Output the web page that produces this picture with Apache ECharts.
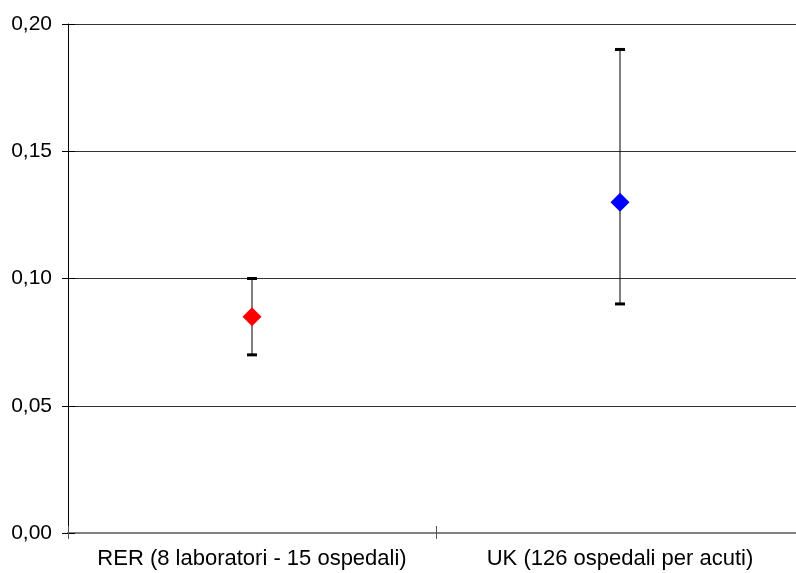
<!DOCTYPE html>
<html><head><meta charset="utf-8">
<script src="https://cdn.jsdelivr.net/npm/echarts@6/dist/echarts.min.js"></script>
<style>html,body{margin:0;padding:0;background:#fff;overflow:hidden}#c{width:804px;height:573px}</style>
</head><body><div id="c"></div>
<script>
var categories = ['RER (8 laboratori - 15 ospedali)', 'UK (126 ospedali per acuti)'];
var values = [0.085, 0.13];
var lows = [0.07, 0.09];
var highs = [0.10, 0.19];
var colors = ['#ff0000', '#0000ff'];

var chart = echarts.init(document.getElementById('c'));
var font = 'Liberation Sans, Arial, sans-serif';
chart.setOption({
  animation: false,
  grid: { left: 68, right: 0, top: 24, bottom: 40, containLabel: false },
  xAxis: [{
    type: 'category', data: categories, boundaryGap: true,
    axisLine: { lineStyle: { color: '#808080', width: 2 } },
    axisTick: { show: true, interval: 0, length: 6, lineStyle: { color: '#555', width: 1 } },
    axisLabel: { interval: 0, color: '#000', fontSize: 22, fontFamily: font, margin: 15 },
    splitLine: { show: false }
  }, {
    type: 'category', data: categories, boundaryGap: true, position: 'bottom',
    axisLine: { show: false },
    axisTick: { show: true, interval: 0, inside: true, length: 7, lineStyle: { color: '#555', width: 1 } },
    axisLabel: { show: false }, splitLine: { show: false }
  }],
  yAxis: [{
    type: 'value', min: 0, max: 0.2, interval: 0.05,
    axisLine: { show: true, lineStyle: { color: '#000', width: 1 } },
    axisTick: { show: true, length: 6, lineStyle: { color: '#000', width: 1 } },
    axisLabel: { color: '#000', fontSize: 21, fontFamily: font, margin: 16,
      formatter: function (v) { return v.toFixed(2).replace('.', ','); } },
    splitLine: { show: true, lineStyle: { color: '#333', width: 1 } }
  }, {
    type: 'value', min: 0, max: 0.2, interval: 0.05, position: 'left',
    axisLine: { show: false },
    axisTick: { show: true, inside: true, length: 7, lineStyle: { color: '#000', width: 1 } },
    axisLabel: { show: false }, splitLine: { show: false }
  }],
  series: [{
    type: 'custom',
    renderItem: function (params, api) {
      var x = api.value(0);
      var top = api.coord([x, api.value(2)]);
      var bot = api.coord([x, api.value(1)]);
      var hw = 5;
      return {
        type: 'group',
        children: [
          { type: 'line', shape: { x1: top[0], y1: top[1], x2: bot[0], y2: bot[1] }, style: { stroke: '#000', lineWidth: 1 } },
          { type: 'line', shape: { x1: top[0] - hw, y1: top[1], x2: top[0] + hw, y2: top[1] }, style: { stroke: '#000', lineWidth: 3 } },
          { type: 'line', shape: { x1: bot[0] - hw, y1: bot[1], x2: bot[0] + hw, y2: bot[1] }, style: { stroke: '#000', lineWidth: 3 } }
        ]
      };
    },
    data: categories.map(function (c, i) { return [i, lows[i], highs[i]]; }),
    z: 2
  }, {
    type: 'scatter', symbol: 'diamond', symbolSize: [19, 19],
    data: values.map(function (v, i) { return { value: [i, v], itemStyle: { color: colors[i], opacity: 1 } }; }),
    z: 3
  }]
});
</script></body></html>
